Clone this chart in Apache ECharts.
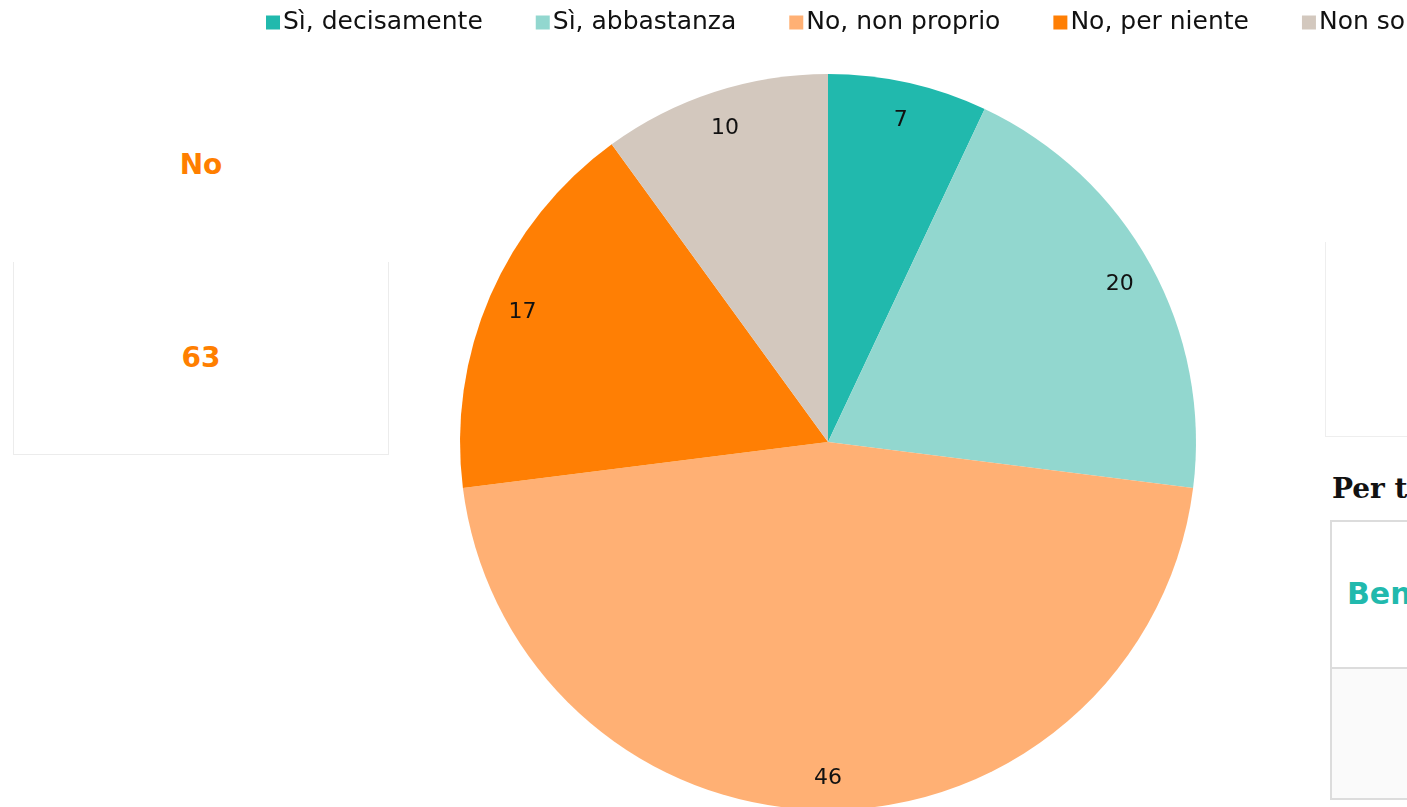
<!DOCTYPE html>
<html>
<head>
<meta charset="utf-8">
<script src="https://cdn.jsdelivr.net/npm/echarts@6/dist/echarts.min.js"></script>
<style>
  html, body { margin: 0; padding: 0; background: #fff; overflow: hidden; width: 1407px; height: 807px; }
  /* il grafico è più largo della finestra: la legenda esce un po' a destra come nell'originale */
  #chart { position: absolute; left: 0; top: 0; width: 1600px; height: 807px; }
  .side { position: absolute; font-family: "DejaVu Sans", sans-serif; }
  /* riquadro a sinistra */
  .left-title { left: 13px; width: 376px; top: 148px; text-align: center; color: #ff7f00; font-weight: bold; font-size: 28px; }
  .left-box { left: 13px; top: 262px; width: 374px; height: 192px; border: 1px solid #ececec; border-top: none; }
  .left-value { left: 13px; width: 376px; top: 341px; text-align: center; color: #ff7f00; font-weight: bold; font-size: 28px; }
  /* riquadri a destra (tagliati) */
  .right-box1 { left: 1325px; top: 242px; width: 200px; height: 194px; border: 1px solid #eeeeee; border-top: none; }
  .right-title { left: 1332px; top: 472px; font-family: "DejaVu Serif", "Liberation Serif", serif; font-weight: bold; font-size: 28px; color: #111; white-space: nowrap; }
  .right-box2 { left: 1330px; top: 520px; width: 200px; height: 276px; border: 2px solid #dcdcdc; }
  .right-row2 { left: 1332px; top: 667px; width: 200px; height: 129px; background: #fafafa; border-top: 2px solid #dcdcdc; }
  .right-cell { left: 1347px; top: 576px; color: #21b9ad; font-weight: bold; font-size: 30px; white-space: nowrap; }
</style>
</head>
<body>
<div class="side left-title">No</div>
<div class="side left-box"></div>
<div class="side left-value">63</div>
<div class="side right-box1"></div>
<div class="side right-title">Per t</div>
<div class="side right-box2"></div>
<div class="side right-row2"></div>
<div class="side right-cell">Ben</div>
<div id="chart"></div>
<script>
// categorie e valori (%)
const categories = ['Sì, decisamente', 'Sì, abbastanza', 'No, non proprio', 'No, per niente', 'Non so'];
const values = [7, 20, 46, 17, 10];
const colors = ['#21b9ad', '#92d7cf', '#ffb074', '#ff7f04', '#d3c8be'];

const pieData = categories.map((name, i) => ({ name: name, value: values[i], itemStyle: { color: colors[i] } }));

const chart = echarts.init(document.getElementById('chart'));
chart.setOption({
  backgroundColor: 'transparent',
  animation: false,
  legend: {
    top: 5,
    left: 261,
    itemWidth: 14,
    itemHeight: 14,
    itemGap: 53,
    icon: 'rect',
    textStyle: { fontSize: 25, color: '#111', fontFamily: 'DejaVu Sans, sans-serif', padding: [0, 0, 0, -2] },
    data: categories
  },
  series: [
    {
      type: 'pie',
      center: [828, 442],
      radius: [0, 368],
      startAngle: 90,
      clockwise: true,
      label: { show: false },
      labelLine: { show: false },
      itemStyle: { borderWidth: 0 },
      data: pieData
    },
    {
      // serie trasparente solo per posizionare le etichette vicino al bordo
      type: 'pie',
      center: [828, 442],
      radius: [292, 368],
      startAngle: 90,
      clockwise: true,
      silent: true,
      legendHoverLink: false,
      itemStyle: { color: 'rgba(0,0,0,0)' },
      label: {
        show: true,
        position: 'inside',
        formatter: '{c}',
        fontSize: 22,
        offset: [0, 3],
        color: '#111',
        fontFamily: 'DejaVu Sans, sans-serif'
      },
      labelLine: { show: false },
      data: categories.map((name, i) => ({ name: name, value: values[i] }))
    }
  ]
});
</script>
</body>
</html>
